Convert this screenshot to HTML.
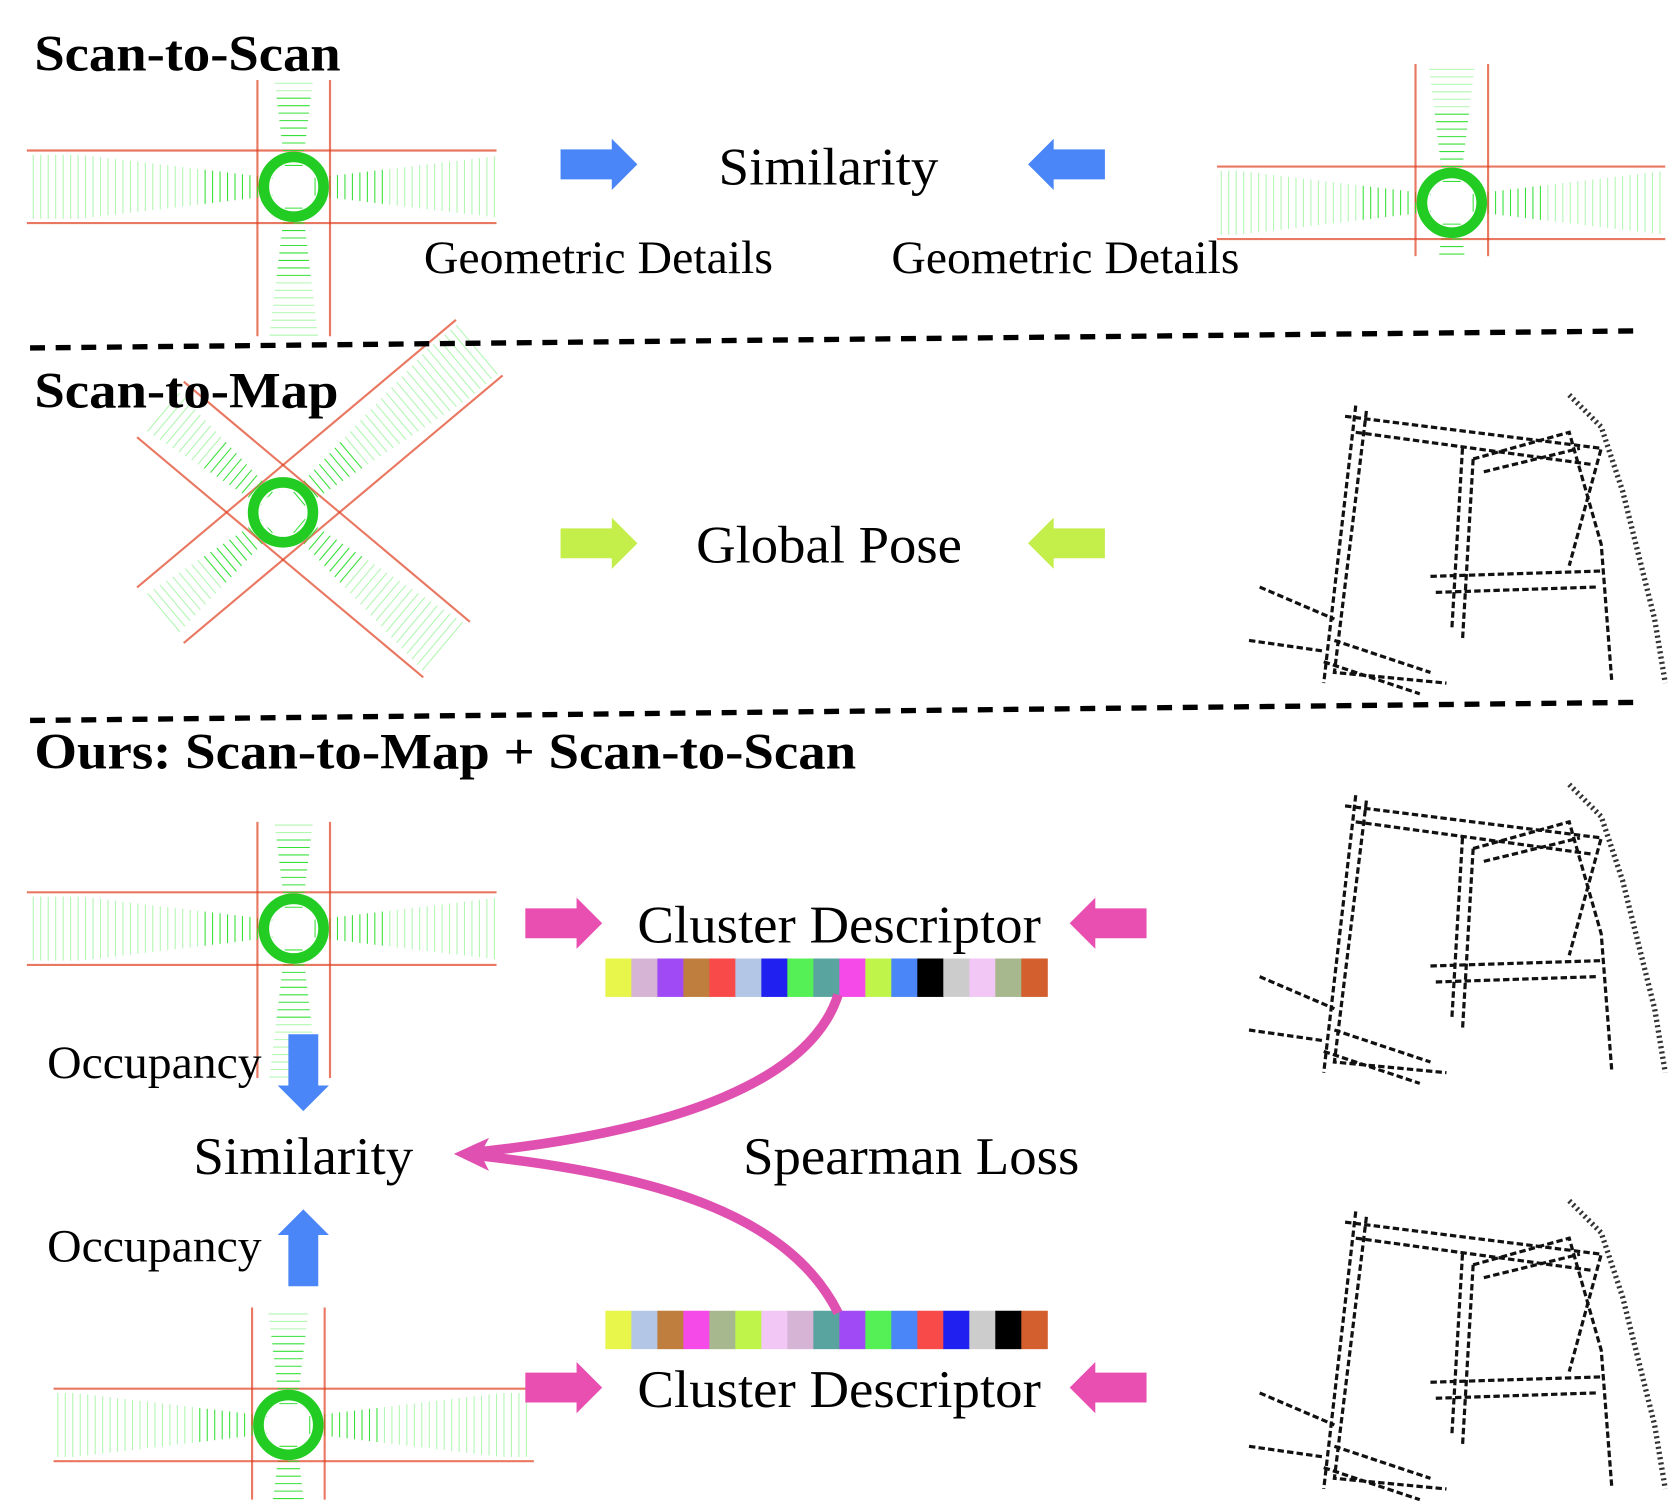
<!DOCTYPE html>
<html><head><meta charset="utf-8"><style>
html,body{margin:0;padding:0;background:#fff;width:1674px;height:1505px;overflow:hidden}
svg{display:block}
text{font-family:"Liberation Serif",serif;fill:#000}
</style></head><body>
<svg id="fig" width="1674" height="1505" viewBox="0 0 1568 1410" xmlns="http://www.w3.org/2000/svg">
<defs>
<g id="rarrow"><path d="M0,-14 H48 V-24 L72,0 L48,24 V14 H0 Z"/></g>
</defs>
<g id="clouds"></g>
<g id="maps"></g>

<text x="32" y="66" font-size="48" font-weight="bold" textLength="287" lengthAdjust="spacingAndGlyphs">Scan-to-Scan</text>
<use href="#rarrow" transform="translate(525,154)" fill="#4a86f7"/>
<use href="#rarrow" transform="translate(1035,154) scale(-1,1)" fill="#4a86f7"/>
<text x="673" y="173" font-size="50" textLength="206" lengthAdjust="spacingAndGlyphs">Similarity</text>
<text x="397" y="256" font-size="44" textLength="327" lengthAdjust="spacingAndGlyphs">Geometric Details</text>
<text x="835" y="256" font-size="44" textLength="326" lengthAdjust="spacingAndGlyphs">Geometric Details</text>
<line x1="28" y1="326" x2="1535" y2="310" stroke="#000" stroke-width="5" stroke-dasharray="14 10"/>

<text x="32" y="382" font-size="48" font-weight="bold" textLength="285" lengthAdjust="spacingAndGlyphs">Scan-to-Map</text>
<use href="#rarrow" transform="translate(525,509)" fill="#c4ee4a"/>
<use href="#rarrow" transform="translate(1035,509) scale(-1,1)" fill="#c4ee4a"/>
<text x="652" y="527" font-size="50" textLength="249" lengthAdjust="spacingAndGlyphs">Global Pose</text>
<line x1="28" y1="675" x2="1535" y2="658" stroke="#000" stroke-width="5" stroke-dasharray="14 10"/>

<text x="32" y="720" font-size="48" font-weight="bold" textLength="770" lengthAdjust="spacingAndGlyphs">Ours: Scan-to-Map + Scan-to-Scan</text>
<use href="#rarrow" transform="translate(492,865)" fill="#e84fb0"/>
<use href="#rarrow" transform="translate(1074,865) scale(-1,1)" fill="#e84fb0"/>
<text x="597" y="883" font-size="50" textLength="378" lengthAdjust="spacingAndGlyphs">Cluster Descriptor</text>
<use href="#rarrow" transform="translate(492,1300)" fill="#e84fb0"/>
<use href="#rarrow" transform="translate(1074,1300) scale(-1,1)" fill="#e84fb0"/>
<text x="597" y="1318" font-size="50" textLength="378" lengthAdjust="spacingAndGlyphs">Cluster Descriptor</text>

<g id="bars"></g>

<path d="M785,932 C760,1010 640,1060 440,1080" fill="none" stroke="#e050b0" stroke-width="9"/>
<path d="M785,1230 C740,1140 620,1100 440,1082" fill="none" stroke="#e050b0" stroke-width="9"/>
<path d="M425,1081 L458,1066 L450,1081 L458,1097 Z" fill="#e050b0"/>
<text x="696" y="1100" font-size="50" textLength="315" lengthAdjust="spacingAndGlyphs">Spearman Loss</text>

<text x="44" y="1010" font-size="44" textLength="201" lengthAdjust="spacingAndGlyphs">Occupancy</text>
<use href="#rarrow" transform="translate(284,969) rotate(90)" fill="#4a86f7"/>
<text x="181" y="1100" font-size="50" textLength="206" lengthAdjust="spacingAndGlyphs">Similarity</text>
<text x="44" y="1182" font-size="44" textLength="201" lengthAdjust="spacingAndGlyphs">Occupancy</text>
<use href="#rarrow" transform="translate(284,1205) rotate(-90)" fill="#4a86f7"/>
</svg>
<script>
const topColors = ["#e8f54a","#d6b4d6","#a04af5","#bf7d3e","#f94a4a","#b4c6e6","#2020f0","#55f055","#5aa49f","#f54ae8","#bff54a","#4a86f7","#000000","#cccccc","#f2c6f5","#a8b88e","#d35f2e"];
const bottomColors = ["#e8f54a","#b4c6e6","#bf7d3e","#f54ae8","#a8b88e","#bff54a","#f2c6f5","#d6b4d6","#5aa49f","#a04af5","#55f055","#4a86f7","#f94a4a","#2020f0","#cccccc","#000000","#d35f2e"];
const NS="http://www.w3.org/2000/svg";
const bars=document.getElementById('bars');
const bx0=567,bx1=981,cw=(bx1-bx0)/topColors.length;
function drawBar(cols,y,name){
  cols.forEach((c,i)=>{
    const r=document.createElementNS(NS,'rect');
    r.setAttribute('x',bx0+i*cw);r.setAttribute('y',y);
    r.setAttribute('width',cw+0.5);r.setAttribute('height',36);r.setAttribute('fill',c);
    
    
    bars.appendChild(r);
  });
}
drawBar(topColors,898,'top-descriptor');
drawBar(bottomColors,1228,'bottom-descriptor');

const clouds=document.getElementById('clouds');
function line(g,x1,y1,x2,y2,c,w,o){
  const l=document.createElementNS(NS,'line');
  l.setAttribute('x1',x1);l.setAttribute('y1',y1);l.setAttribute('x2',x2);l.setAttribute('y2',y2);
  l.setAttribute('stroke',c);l.setAttribute('stroke-width',w);l.setAttribute('opacity',o);
  g.appendChild(l);
}
function cloud(cx,cy,angles,lens,name){
  const g=document.createElementNS(NS,'g');
  
  
  angles.forEach((a,k)=>{
    const L=lens[k],rad=a*Math.PI/180,dx=Math.cos(rad),dy=Math.sin(rad),px=-dy,py=dx;
    for(let d=20;d<L;d+=7){
      const hw=Math.min(30,6+d*0.12);
      line(g,cx+dx*d-px*hw,cy+dy*d-py*hw,cx+dx*d+px*hw,cy+dy*d+py*hw,d<90?'#22dd22':'#66ee66',1,d<90?0.9:0.5);
    }
    line(g,cx+px*34,cy+py*34,cx+dx*L+px*34,cy+dy*L+py*34,'#e04020',2,0.7);
    line(g,cx-px*34,cy-py*34,cx+dx*L-px*34,cy+dy*L-py*34,'#e04020',2,0.7);
  });
  const c=document.createElementNS(NS,'circle');
  c.setAttribute('cx',cx);c.setAttribute('cy',cy);c.setAttribute('r',28);
  c.setAttribute('fill','none');c.setAttribute('stroke','#22cc22');c.setAttribute('stroke-width',10);
  g.appendChild(c);
  const h=document.createElementNS(NS,'circle');
  h.setAttribute('cx',cx-5);h.setAttribute('cy',cy);h.setAttribute('r',17);h.setAttribute('fill','#fff');
  g.appendChild(h);
  clouds.appendChild(g);
}
cloud(275,175,[0,90,180,270],[190,140,250,100],'scan-cloud-top-left');
cloud(1360,190,[0,90,180,270],[200,50,220,130],'scan-cloud-top-right');
cloud(265,480,[-40,40,140,220],[240,200,150,150],'scan-cloud-map-row');
cloud(275,870,[0,90,180,270],[190,140,250,100],'scan-cloud-ours-top');
cloud(270,1335,[0,90,180,270],[230,70,220,110],'scan-cloud-ours-bottom');

const maps=document.getElementById('maps');
function map(ox,oy,name){
  const g=document.createElementNS(NS,'g');
  
  
  g.setAttribute('transform',`translate(${ox},${oy})`);
  const paths=["M130,20 L100,280 M140,25 L110,270 L215,280","M120,30 L360,60 L330,170 M130,45 L350,75","M230,60 L220,230 M240,70 L230,240","M240,70 L330,45 L360,150 L370,280 M250,82 L340,60","M200,180 L360,175 M205,195 L355,190","M40,190 L110,220 M30,240 L100,250","M110,240 L200,270 M100,260 L190,290"];
  paths.forEach(d=>{
    const p=document.createElementNS(NS,'path');
    p.setAttribute('d',d);p.setAttribute('fill','none');p.setAttribute('stroke','#111');
    p.setAttribute('stroke-width',3);p.setAttribute('stroke-dasharray','6 3');
    g.appendChild(p);
  });
  const e=document.createElementNS(NS,'path');
  e.setAttribute('d','M330,10 L360,40 L380,100 L395,160 L410,220 L420,280');
  e.setAttribute('fill','none');e.setAttribute('stroke','#333');e.setAttribute('stroke-width',5);e.setAttribute('stroke-dasharray','2 3');
  g.appendChild(e);
  maps.appendChild(g);
}
map(1140,360,'global-map-scan-to-map');
map(1140,725,'global-map-ours-top');
map(1140,1115,'global-map-ours-bottom');
</script>
</body></html>
